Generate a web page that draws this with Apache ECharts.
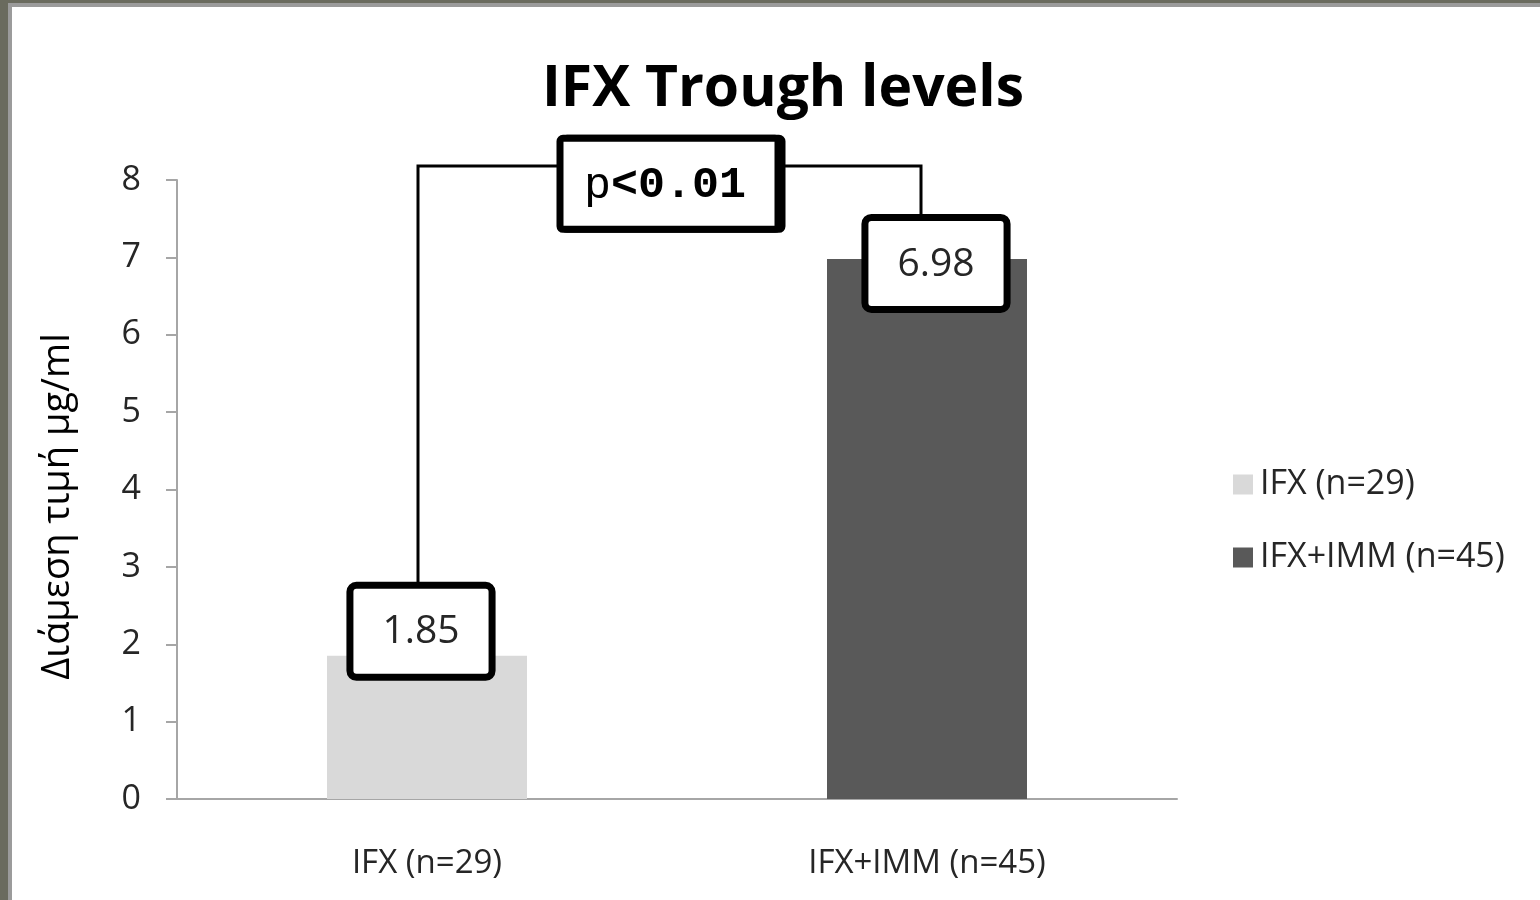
<!DOCTYPE html>
<html>
<head>
<meta charset="utf-8">
<script src="https://cdn.jsdelivr.net/npm/echarts@6/dist/echarts.min.js"></script>
<style>
  html, body { margin: 0; padding: 0; background: #ffffff; }
  #chart { width: 1540px; height: 900px; }
</style>
</head>
<body>
<div id="chart"></div>
<script>
// Median infliximab trough levels by treatment group
const categories = ['IFX (n=29)', 'IFX+IMM (n=45)'];
const seriesNames = ['IFX (n=29)', 'IFX+IMM (n=45)'];
const medianValues = [1.85, 6.98];
const barColors = ['#d9d9d9', '#595959'];
const yTicks = { min: 0, max: 8, interval: 1 };
const pLabel = 'p<0.01';

const chart = echarts.init(document.getElementById('chart'), null, { renderer: 'canvas' });

// per-bar placement of the value boxes (pixels, relative to the bar top)
const labelOffsets = [[-6, 18], [9, 47]];

function valueLabel(i) {
  return {
    show: true,
    position: 'top',
    distance: 0,
    offset: labelOffsets[i],
    formatter: p => p.value.toFixed(2),
    fontFamily: 'Open Sans',
    fontSize: 39,
    color: '#262626',
    backgroundColor: '#ffffff',
    borderColor: '#000000',
    borderWidth: 7,
    borderRadius: 3,
    padding: [24, 29, 22, 29]
  };
}

const series = seriesNames.map((name, i) => ({
  name: name,
  type: 'bar',
  stack: 'groups',
  barWidth: '40%',
  itemStyle: { color: barColors[i] },
  label: valueLabel(i),
  data: categories.map((c, j) => (j === i ? medianValues[i] : '-'))
}));

const option = {
  backgroundColor: '#ffffff',
  animation: false,
  title: {
    text: 'IFX Trough levels',
    left: 778,
    textAlign: 'center',
    top: 56,
    textStyle: { fontFamily: 'Open Sans', fontWeight: 'bold', fontSize: 57, color: '#000000' }
  },
  legend: {
    orient: 'vertical',
    left: 1228,
    top: 462,
    itemWidth: 20,
    itemHeight: 20,
    itemGap: 38,
    icon: 'rect',
    data: seriesNames,
    textStyle: { fontFamily: 'Open Sans', fontSize: 34, color: '#262626', lineHeight: 35, padding: [0, 0, 0, 2] }
  },
  grid: { left: 177, right: 363, top: 180, bottom: 101, containLabel: false },
  xAxis: {
    type: 'category',
    data: categories,
    axisLine: { show: true, lineStyle: { color: '#a6a6a6', width: 2 } },
    axisTick: { show: false },
    axisLabel: {
      margin: 48,
      fontFamily: 'Open Sans',
      fontSize: 33,
      color: '#262626'
    }
  },
  yAxis: {
    type: 'value',
    min: yTicks.min,
    max: yTicks.max,
    interval: yTicks.interval,
    name: 'Διάμεση τιμή μg/ml',
    nameLocation: 'middle',
    nameGap: 100,
    nameRotate: 90,
    nameTextStyle: { fontFamily: 'Open Sans', fontSize: 38, color: '#000000', padding: [0, 0, 0, -34] },
    axisLine: { show: true, lineStyle: { color: '#a6a6a6', width: 2 } },
    axisTick: { show: true, inside: false, length: 11, lineStyle: { color: '#a6a6a6', width: 2 } },
    splitLine: { show: false },
    axisLabel: { margin: 36, fontFamily: 'Open Sans', fontSize: 34, color: '#262626' }
  },
  series: series
};

chart.setOption(option);

// Significance bracket between the two groups, positioned through the axes
const bracketLevel = 8.18;
const pBoxLevel = 7.95;
const a = chart.convertToPixel({ seriesIndex: 0 }, [0, medianValues[0]]);
const b = chart.convertToPixel({ seriesIndex: 1 }, [1, medianValues[1]]);
const yBracket = chart.convertToPixel({ yAxisIndex: 0 }, bracketLevel);
const yPBox = chart.convertToPixel({ yAxisIndex: 0 }, pBoxLevel);
const leftX = a[0] - 9;
const rightX = b[0] - 6;
const midX = (a[0] + b[0]) / 2 - 8;
const boxW = 218, boxH = 91;

// frame on the left and top edges
const frame = [
  { type: 'rect', shape: { x: 0, y: 0, width: 1540, height: 3 }, style: { fill: '#6a6b5e' }, z: 100 },
  { type: 'rect', shape: { x: 0, y: 0, width: 8, height: 900 }, style: { fill: '#6a6b5e' }, z: 100 },
  { type: 'rect', shape: { x: 8, y: 3, width: 1532, height: 4 }, style: { fill: '#9b9b9b' }, z: 100 },
  { type: 'rect', shape: { x: 8, y: 3, width: 4, height: 897 }, style: { fill: '#9b9b9b' }, z: 100 }
];

chart.setOption({
  graphic: frame.concat([
    {
      type: 'polyline',
      z: 1,
      shape: { points: [[leftX, a[1]], [leftX, yBracket], [rightX, yBracket], [rightX, b[1]]] },
      style: { stroke: '#000000', lineWidth: 3, fill: null }
    },
    {
      type: 'rect',
      z: 50,
      shape: { x: midX - boxW / 2 + 4, y: yPBox - boxH / 2, width: boxW, height: boxH, r: 3 },
      style: { fill: '#000000', stroke: '#000000', lineWidth: 7 }
    },
    {
      type: 'rect',
      z: 51,
      shape: { x: midX - boxW / 2, y: yPBox - boxH / 2, width: boxW, height: boxH, r: 3 },
      style: { fill: '#ffffff', stroke: '#000000', lineWidth: 7 }
    },
    {
      type: 'text',
      z: 52,
      x: midX - 4,
      y: yPBox + 2,
      style: {
        text: '{a|p}{b|' + pLabel.slice(1) + '}',
        align: 'center',
        verticalAlign: 'middle',
        rich: {
          a: { fontFamily: 'Liberation Mono', fontSize: 45, fontWeight: 'normal', fill: '#000000' },
          b: { fontFamily: 'Liberation Mono', fontSize: 45, fontWeight: 'bold', fill: '#000000' }
        }
      }
    }
  ])
});
</script>
</body>
</html>
